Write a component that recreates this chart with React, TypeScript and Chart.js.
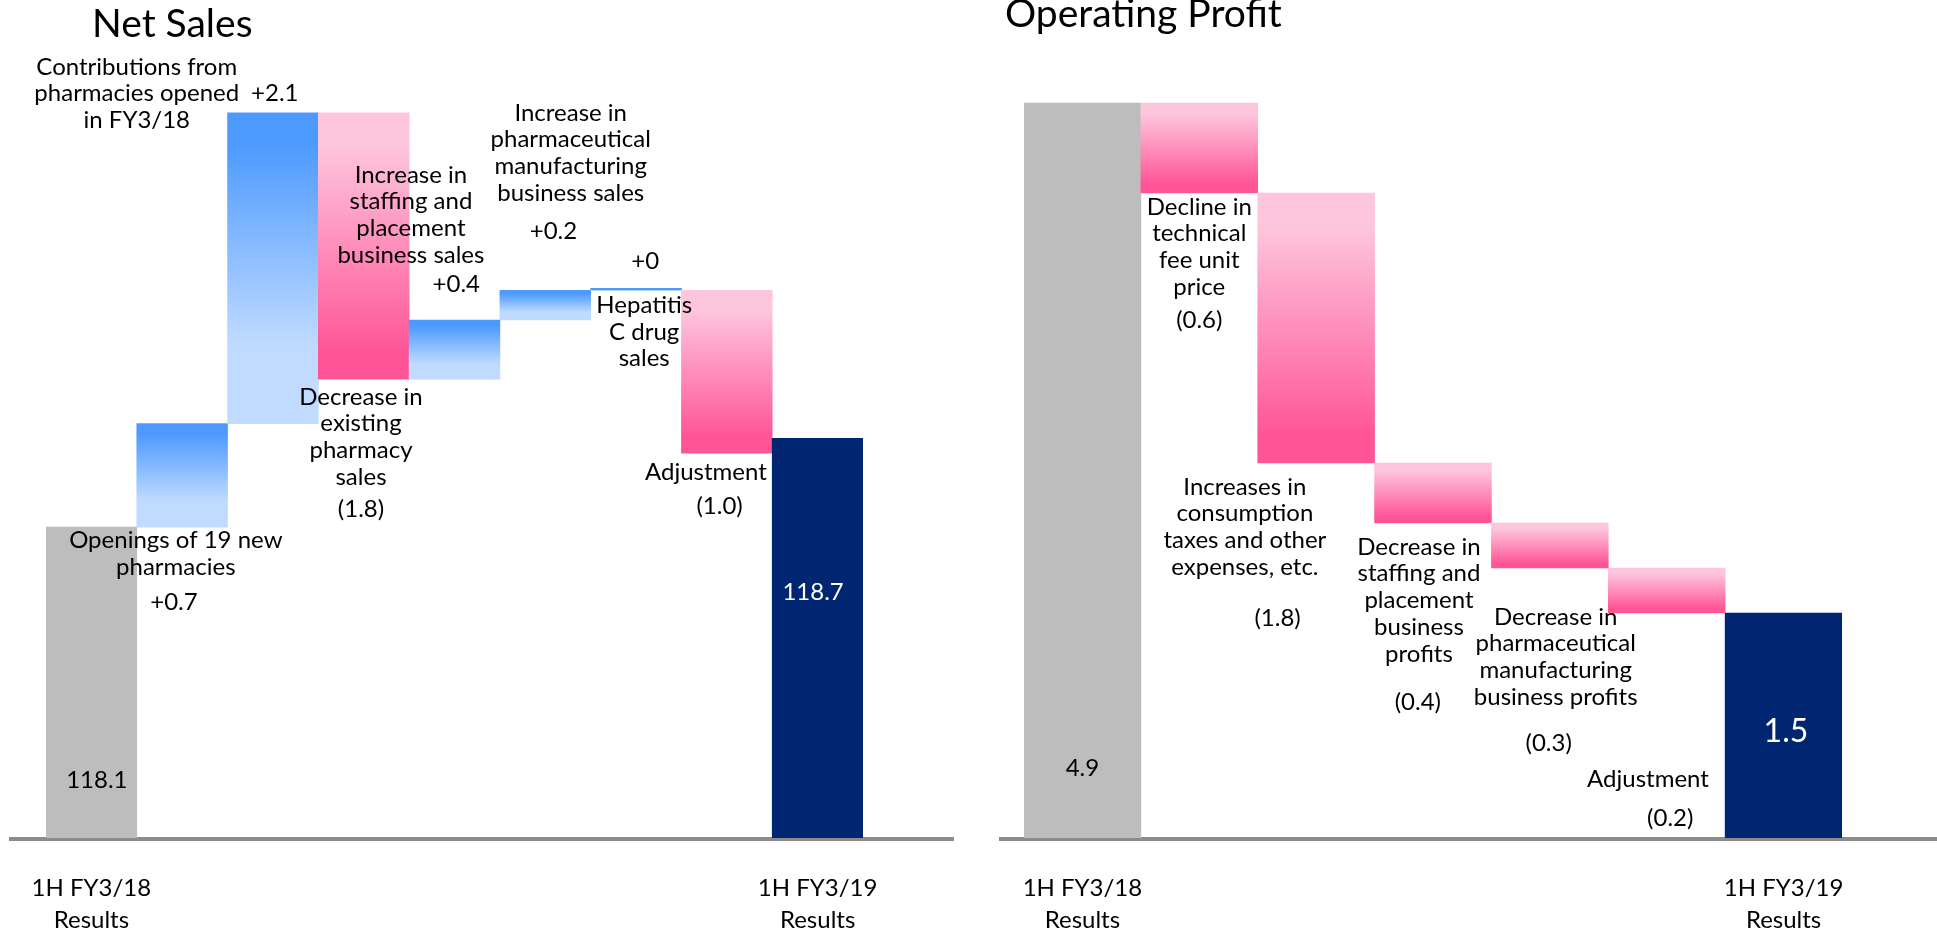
import React, { useEffect, useRef } from "react";
import { Chart, registerables } from "chart.js";

Chart.register(...registerables);

const FONT = "Lato, 'Open Sans', 'DejaVu Sans', sans-serif";

// ---------------- Net Sales (data) ----------------
const salesCategories: (string | string[])[] = [
  ["1H FY3/18", "Results"], "", "", "", "", "", "", "", ["1H FY3/19", "Results"],
];
// first = starting total, last = ending total, between = changes (as drawn)
const salesSteps = [118.1, 0.7, 2.1, -1.8, 0.4, 0.2, 0, -1.1, 118.7];
const salesAxisMin = 116;
const salesAxisMax = 121;
const salesTitle = "Net Sales";
const salesNoteTexts: string[][] = [
  ["Contributions from", "pharmacies opened", "in FY3/18"],
  ["+2.1"],
  ["Increase in", "staffing and", "placement", "business sales"],
  ["+0.4"],
  ["Increase in", "pharmaceutical", "manufacturing", "business sales"],
  ["+0.2"],
  ["+0"],
  ["Hepatitis", "C drug", "sales"],
  ["Decrease in", "existing", "pharmacy", "sales"],
  ["(1.8)"],
  ["Openings of 19 new", "pharmacies"],
  ["+0.7"],
  ["Adjustment"],
  ["(1.0)"],
  ["118.1"],
  ["118.7"],
];

// ---------------- Operating Profit (data) ----------------
const profitCategories: (string | string[])[] = [
  ["1H FY3/18", "Results"], "", "", "", "", "", ["1H FY3/19", "Results"],
];
const profitSteps = [4.9, -0.6, -1.8, -0.4, -0.3, -0.3, 1.5];
const profitAxisMin = 0;
const profitAxisMax = 5;
const profitTitle = "Operating Profit";
const profitNoteTexts: string[][] = [
  ["Decline in", "technical", "fee unit", "price"],
  ["(0.6)"],
  ["Increases in", "consumption", "taxes and other", "expenses, etc."],
  ["(1.8)"],
  ["Decrease in", "staffing and", "placement", "business", "profits"],
  ["(0.4)"],
  ["Decrease in", "pharmaceutical", "manufacturing", "business profits"],
  ["(0.3)"],
  ["Adjustment"],
  ["(0.2)"],
  ["4.9"],
  ["1.5"],
];

// ---------------- layout / style ----------------
// note anchors: [category position, value position] (first line centre)
const salesNoteAnchors: [number, number][] = [
  [0.5, 121.21], [2.02, 121.03], [3.52, 120.48], [4.02, 119.74],
  [5.28, 120.9], [5.09, 120.1], [6.1, 119.9], [6.09, 119.6],
  [2.97, 118.98], [2.97, 118.22], [0.93, 118.01], [0.91, 117.59],
  [6.77, 118.47], [6.92, 118.24], [0.06, 116.39], [7.95, 117.66],
];
const salesNoteStyles = ["n", "n", "n", "n", "n", "n", "n", "n", "n", "n", "n", "n", "n", "n", "n", "w"];

const profitNoteAnchors: [number, number][] = [
  [1.0, 4.207], [1.0, 3.453], [1.39, 2.34], [1.67, 1.467],
  [2.88, 1.94], [2.87, 0.907], [4.05, 1.473], [3.99, 0.633],
  [4.84, 0.393], [5.03, 0.133], [0.0, 0.467], [6.02, 0.707],
];
const profitNoteStyles = ["n", "n", "n", "n", "n", "n", "n", "n", "n", "n", "n", "big"];

const GRAY = "#BDBDBD";
const NAVY = "#002672";
const BLUE_TOP = "#4D9AFF";
const BLUE_BOTTOM = "#C0DBFF";
const PINK_TOP = "#FDC6DD";
const PINK_BOTTOM = "#FF5596";
const AXIS_LINE = "#8C8C8C";
const LINE_GAP = 26.7;
const CANVAS_H = 935;

type Kind = "start" | "end" | "up" | "down";

function toRanges(steps: number[], floor: number): [number, number][] {
  let run = 0;
  return steps.map((v, i) => {
    if (i === 0) {
      run = v;
      return [floor, v];
    }
    if (i === steps.length - 1) return [floor, v];
    const from = run;
    run = Math.round((run + v) * 1000) / 1000;
    return [from, run];
  });
}

function toKinds(steps: number[]): Kind[] {
  return steps.map((v, i) =>
    i === 0 ? "start" : i === steps.length - 1 ? "end" : v >= 0 ? "up" : "down"
  );
}

function barFill(kinds: Kind[]) {
  return (c: any) => {
    const kind = kinds[c.dataIndex];
    if (kind === "start") return GRAY;
    if (kind === "end") return NAVY;
    const up = kind === "up";
    const raw = c.raw;
    const ys = c.chart.scales && c.chart.scales.y;
    if (!Array.isArray(raw) || !ys) return up ? BLUE_TOP : PINK_BOTTOM;
    let top = ys.getPixelForValue(Math.max(raw[0], raw[1]));
    let bottom = ys.getPixelForValue(Math.min(raw[0], raw[1]));
    if (!isFinite(top) || !isFinite(bottom)) return up ? BLUE_TOP : PINK_BOTTOM;
    if (bottom - top < 2) {
      top -= 1;
      bottom += 1;
    }
    const g = c.chart.ctx.createLinearGradient(0, top, 0, bottom);
    if (up) {
      g.addColorStop(0, BLUE_TOP);
      g.addColorStop(0.1, BLUE_TOP);
      g.addColorStop(0.75, BLUE_BOTTOM);
      g.addColorStop(1, BLUE_BOTTOM);
    } else {
      g.addColorStop(0, PINK_TOP);
      g.addColorStop(0.12, PINK_TOP);
      g.addColorStop(0.9, PINK_BOTTOM);
      g.addColorStop(1, PINK_BOTTOM);
    }
    return g;
  };
}

interface PanelCfg {
  categories: (string | string[])[];
  steps: number[];
  min: number;
  max: number;
  title: string;
  titleX: number;
  titleY: number;
  noteTexts: string[][];
  noteAnchors: [number, number][];
  noteStyles: string[];
  padding: { left: number; right: number; top: number; bottom: number };
  lineFrom: number;
  lineTo: number;
  width: number;
}

function makeNotesPlugin(cfg: PanelCfg) {
  return {
    id: "notes",
    beforeDatasetsDraw(chart: any) {
      const ctx = chart.ctx;
      const y = chart.scales.y.bottom;
      ctx.save();
      ctx.fillStyle = AXIS_LINE;
      ctx.fillRect(cfg.lineFrom, y - 1, cfg.lineTo - cfg.lineFrom, 4);
      ctx.restore();
    },
    afterDatasetsDraw(chart: any) {
      const ctx = chart.ctx;
      const xs = chart.scales.x;
      const ys = chart.scales.y;
      ctx.save();
      ctx.textAlign = "center";
      ctx.textBaseline = "middle";
      cfg.noteTexts.forEach((lines, i) => {
        const style = cfg.noteStyles[i];
        const size = style === "big" ? 32 : 24;
        ctx.font = `${size}px ${FONT}`;
        ctx.fillStyle = style === "n" ? "#000000" : "#FFFFFF";
        const [cx, cy] = cfg.noteAnchors[i];
        const px = xs.getPixelForValue(cx);
        const py = ys.getPixelForValue(cy);
        lines.forEach((line, k) => ctx.fillText(line, px, py + k * LINE_GAP));
      });
      ctx.textAlign = "left";
      ctx.textBaseline = "alphabetic";
      ctx.font = `39px ${FONT}`;
      ctx.fillStyle = "#000000";
      ctx.fillText(cfg.title, cfg.titleX, cfg.titleY);
      ctx.restore();
    },
  };
}

function buildConfig(cfg: PanelCfg): any {
  const kinds = toKinds(cfg.steps);
  const axisHeight = CANVAS_H - 838 - cfg.padding.bottom;
  return {
    type: "bar",
    data: {
      labels: cfg.categories,
      datasets: [
        {
          data: toRanges(cfg.steps, cfg.min),
          backgroundColor: barFill(kinds),
          borderWidth: 0,
          barPercentage: 1,
          categoryPercentage: 1,
          minBarLength: 2,
        },
      ],
    },
    options: {
      responsive: false,
      animation: false,
      events: [],
      layout: { padding: cfg.padding },
      plugins: {
        legend: { display: false },
        tooltip: { enabled: false },
        title: { display: false },
      },
      scales: {
        x: {
          type: "category",
          offset: true,
          grid: { display: false, drawTicks: false },
          border: { display: false },
          ticks: {
            autoSkip: false,
            maxRotation: 0,
            minRotation: 0,
            padding: 35,
            color: "#000000",
            font: { family: FONT, size: 24, lineHeight: 1.3 },
          },
          afterFit: (s: any) => {
            s.height = axisHeight;
            s.paddingLeft = 0;
            s.paddingRight = 0;
          },
        },
        y: {
          display: false,
          min: cfg.min,
          max: cfg.max,
        },
      },
    },
    plugins: [makeNotesPlugin(cfg)],
  };
}

const salesCfg: PanelCfg = {
  categories: salesCategories,
  steps: salesSteps,
  min: salesAxisMin,
  max: salesAxisMax,
  title: salesTitle,
  titleX: 92,
  titleY: 37,
  noteTexts: salesNoteTexts,
  noteAnchors: salesNoteAnchors,
  noteStyles: salesNoteStyles,
  padding: { left: 46, right: 107, top: 98, bottom: 0 },
  lineFrom: 9,
  lineTo: 954,
  width: 970,
};

const profitCfg: PanelCfg = {
  categories: profitCategories,
  steps: profitSteps,
  min: profitAxisMin,
  max: profitAxisMax,
  title: profitTitle,
  titleX: 30,
  titleY: 27,
  noteTexts: profitNoteTexts,
  noteAnchors: profitNoteAnchors,
  noteStyles: profitNoteStyles,
  padding: { left: 49, right: 95, top: 88, bottom: 0 },
  lineFrom: 24,
  lineTo: 962,
  width: 962,
};

function Panel({ cfg, left }: { cfg: PanelCfg; left: number }) {
  const ref = useRef<HTMLCanvasElement | null>(null);
  useEffect(() => {
    if (!ref.current) return;
    const chart = new Chart(ref.current, buildConfig(cfg));
    return () => chart.destroy();
  }, [cfg]);
  return (
    <canvas
      ref={ref}
      width={cfg.width}
      height={CANVAS_H}
      style={{ position: "absolute", left, top: 0, width: cfg.width, height: CANVAS_H }}
    />
  );
}

export default function App() {
  return (
    <div
      style={{
        position: "fixed",
        left: 0,
        top: 0,
        width: 1937,
        height: CANVAS_H,
        overflow: "hidden",
        background: "#FFFFFF",
      }}
    >
      <Panel cfg={salesCfg} left={0} />
      <Panel cfg={profitCfg} left={975} />
    </div>
  );
}
